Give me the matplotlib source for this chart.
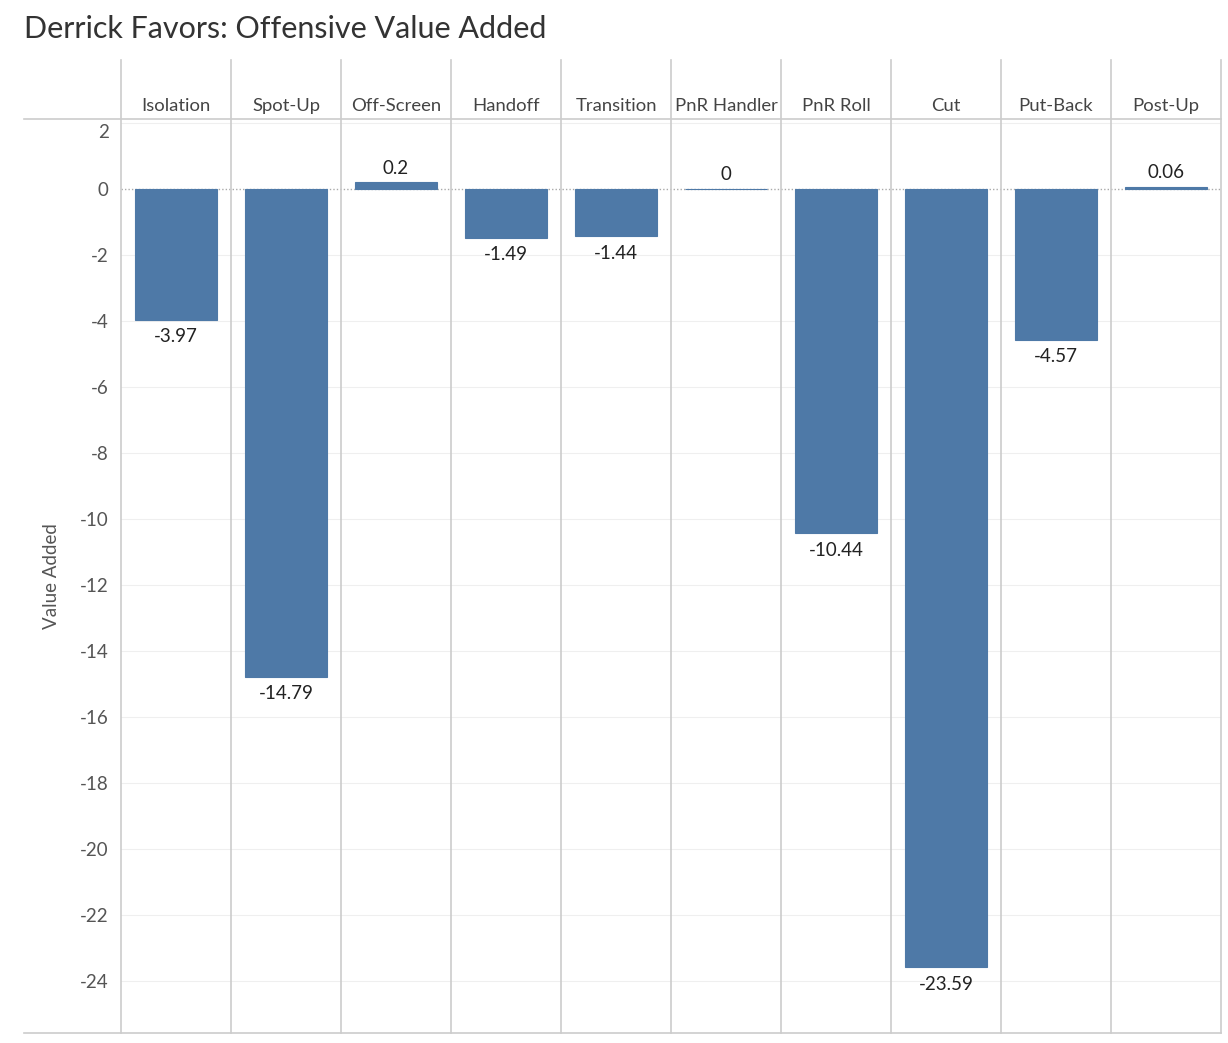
import matplotlib
matplotlib.use("Agg")
import matplotlib.pyplot as plt
from matplotlib.lines import Line2D
from matplotlib.transforms import ScaledTranslation

categories = ["Isolation", "Spot-Up", "Off-Screen", "Handoff", "Transition",
              "PnR Handler", "PnR Roll", "Cut", "Put-Back", "Post-Up"]
values = [-3.97, -14.79, 0.2, -1.49, -1.44, 0.0, -10.44, -23.59, -4.57, 0.06]
labels = ["-3.97", "-14.79", "0.2", "-1.49", "-1.44", "0", "-10.44", "-23.59", "-4.57", "0.06"]
yticks = list(range(-24, 3, 2))

plt.rcParams['font.family'] = ['Lato', 'DejaVu Sans']

W, H = 1228, 1043
fig = plt.figure(figsize=(W / 100, H / 100), dpi=100)
L, R, T, B = 121, 1221, 119, 1033
ax = fig.add_axes([L / W, 1 - B / H, (R - L) / W, (B - T) / H])

n = len(categories)
x = list(range(n))
bar_color = "#4E79A7"
ax.bar(x, values, width=0.745, color=bar_color, edgecolor=bar_color,
       linewidth=0.8, zorder=3)
ax.set_xlim(-0.5, n - 0.5)
ax.set_ylim(-25.58, 2.12)

# grid
for t in yticks:
    if t != 0:
        ax.axhline(t, color="#efefef", lw=0.8, zorder=1)
ax.axhline(0, color="#aaaaaa", lw=1.0, ls=(0, (1, 1.5)), zorder=2)

ax.set_yticks(yticks)
ax.set_yticklabels([str(t) for t in yticks], fontsize=13.5, color="#555555")
ax.tick_params(axis="y", length=0, pad=9)
# top label is kept inside the pane (shifted down)
top_lab = ax.get_yticklabels()[-1]
top_lab.set_transform(top_lab.get_transform() + ScaledTranslation(0, -8 / 100, fig.dpi_scale_trans))
ax.set_xticks([])
for s in ax.spines.values():
    s.set_visible(False)

ax.set_ylabel("Value Added", fontsize=13.5, color="#555555", labelpad=14)

# value labels
for xi, v, lab in zip(x, values, labels):
    if v < 0:
        ax.annotate(lab, (xi, v), xytext=(0, -6), textcoords="offset points",
                    ha="center", va="top", fontsize=13.5, color="#222222")
    else:
        ax.annotate(lab, (xi, v), xytext=(0, 4), textcoords="offset points",
                    ha="center", va="bottom", fontsize=13.5, color="#222222")

# column separators and header lines in figure pixels
sep_color = "#cccccc"
colw = (R - L) / n
for i in range(n + 1):
    xp = L + i * colw
    fig.add_artist(Line2D([xp / W, xp / W], [1 - 60 / H, 1 - B / H],
                          color=sep_color, lw=1.2, transform=fig.transFigure))
for yp in (T, B):
    fig.add_artist(Line2D([24 / W, R / W], [1 - yp / H, 1 - yp / H],
                          color=sep_color, lw=1.2, transform=fig.transFigure))

# header category labels
for i, c in enumerate(categories):
    xc = L + (i + 0.5) * colw
    fig.text(xc / W, 1 - 106 / H, c, ha="center", va="center",
             fontsize=13.3, color="#444444")

fig.text(24 / W, 1 - 29 / H, "Derrick Favors: Offensive Value Added",
         ha="left", va="center", fontsize=22, color="#333333")

fig.savefig("out.png", dpi=100)
